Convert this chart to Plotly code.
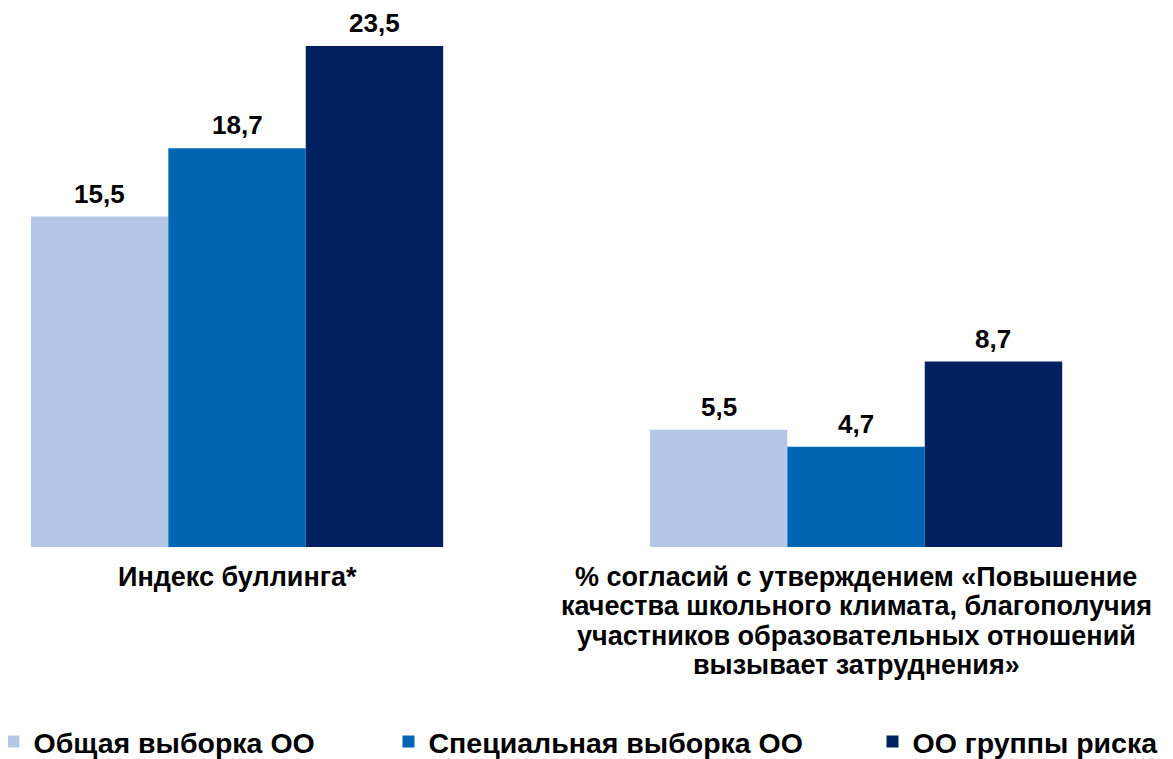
import plotly.graph_objects as go

categories = ["Индекс буллинга*",
              "% согласий с утверждением «Повышение<br>качества школьного климата, благополучия<br>участников образовательных отношений<br>вызывает затруднения»"]
series_names = ["Общая выборка ОО", "Специальная выборка ОО", "ОО группы риска"]
general = [15.5, 5.5]
special = [18.7, 4.7]
risk = [23.5, 8.7]
colors = ["#B4C7E7", "#0066B3", "#00205F"]

series_values = [general, special, risk]
FONT = "Liberation Sans, Arial, sans-serif"
bargap = 0.334
bw = (1 - bargap) / 3
W, H = 1165, 751   # page body has an 8px margin
T, B = 6, 212
plot_h = H - T - B

fig = go.Figure()
legends = ["legend", "legend2", "legend3"]
for i, (name, vals, col) in enumerate(zip(series_names, series_values, colors)):
    fig.add_trace(go.Bar(
        x=list(range(len(categories))), y=vals, name=name,
        marker=dict(color=col, line=dict(width=0)),
        legend=legends[i], showlegend=True,
    ))
    for c, v in enumerate(vals):
        fig.add_annotation(
            x=c + (i - 1) * bw, y=v, xref="x", yref="y",
            text=f"{v:.1f}".replace(".", ","), showarrow=False,
            yanchor="bottom", yshift=6,
            font=dict(family=FONT, size=26, color="#000000", weight="bold"),
        )

# category labels, one annotation per line for tighter line spacing
for c, label in enumerate(categories):
    for k, line in enumerate(label.split("<br>")):
        fig.add_annotation(
            x=c, y=0, xref="x", yref="paper", text=line, showarrow=False,
            yanchor="top", yshift=-13 - 29.3 * k,
            font=dict(family=FONT, size=27, color="#000000", weight="bold"),
        )

legend_x = [-14.5 / W, 380.5 / W, 864.5 / W]
leg_y = (H - B - 734) / plot_h
leg_common = dict(orientation="h", xref="paper", yref="paper",
                  yanchor="middle", y=leg_y, xanchor="left",
                  font=dict(family=FONT, size=28.5, color="#000000", weight="bold"),
                  bgcolor="rgba(0,0,0,0)", itemwidth=30)
fig.update_layout(
    width=W, height=H,
    margin=dict(l=0, r=0, t=T, b=B, autoexpand=False),
    paper_bgcolor="white", plot_bgcolor="white",
    barmode="group", bargap=bargap, bargroupgap=0,
    showlegend=True,
    legend=dict(x=legend_x[0], **leg_common),
    legend2=dict(x=legend_x[1], **leg_common),
    legend3=dict(x=legend_x[2], **leg_common),
    xaxis=dict(
        range=[-0.370, 1.512], showgrid=False, zeroline=False, showline=False,
        showticklabels=False, ticks="",
    ),
    yaxis=dict(range=[0, 25], visible=False),
)
fig.write_html("out.html")
